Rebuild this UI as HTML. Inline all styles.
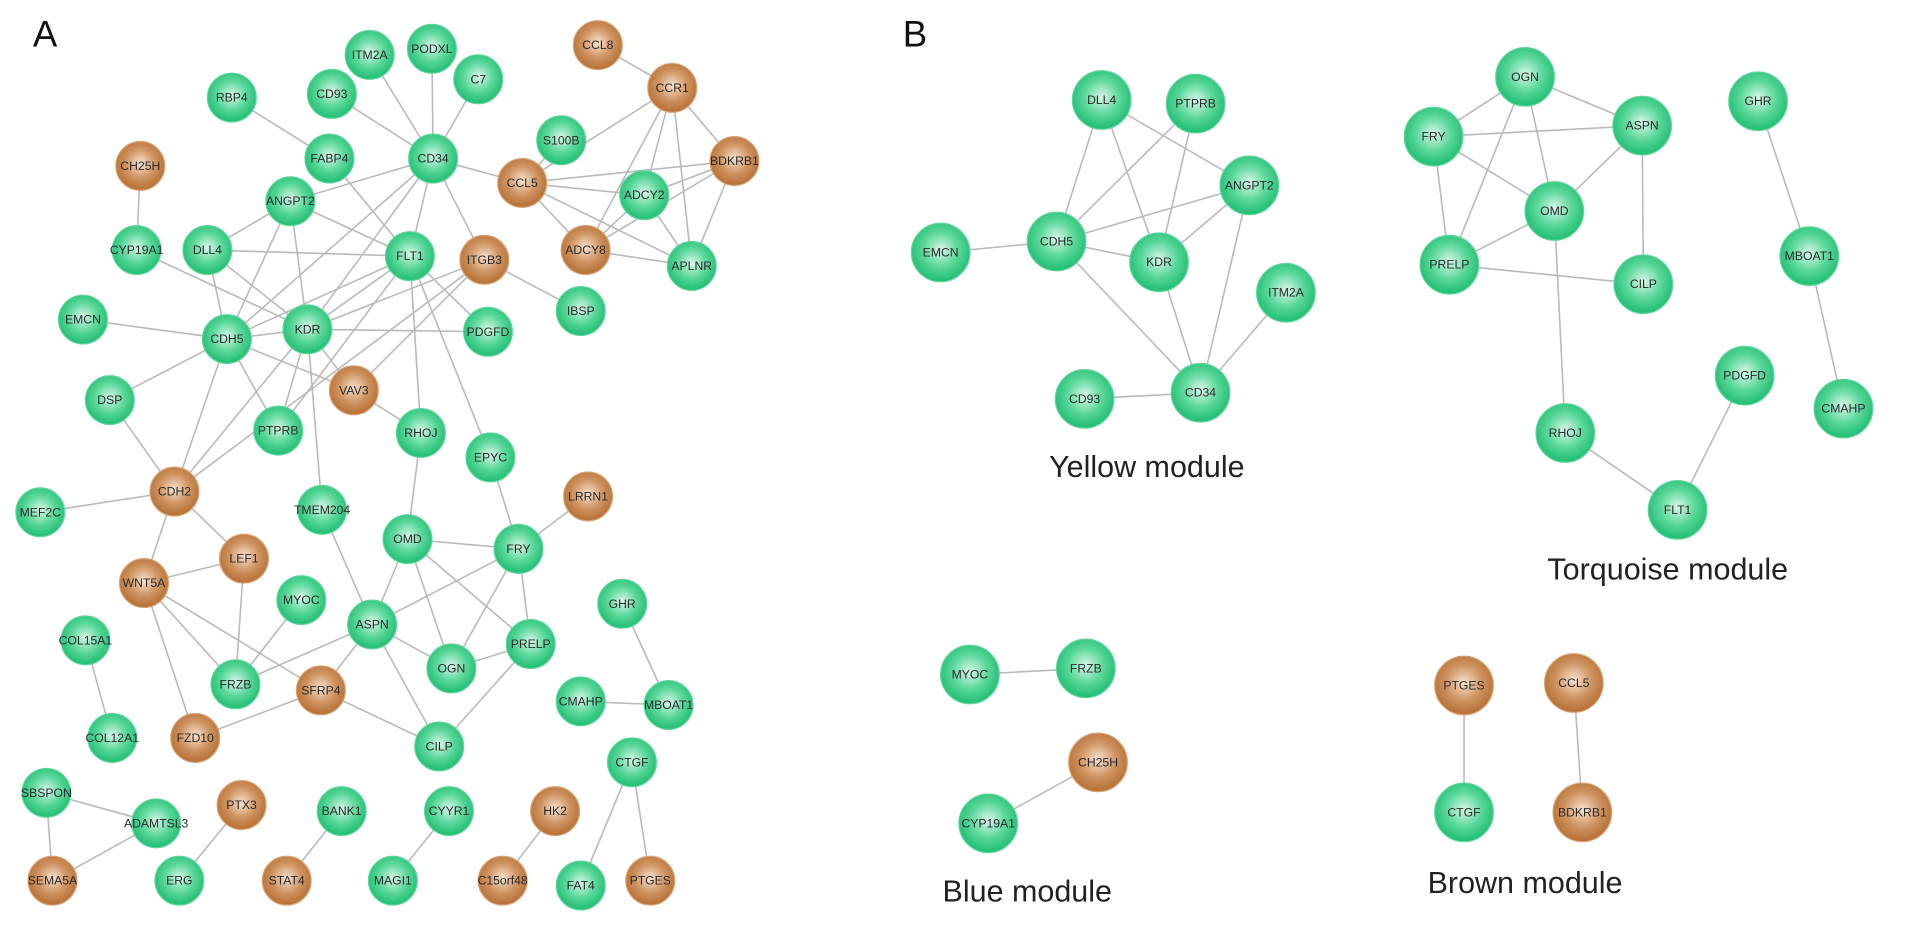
<!DOCTYPE html>
<html><head><meta charset="utf-8"><style>
html,body{margin:0;padding:0;background:#fff;width:1913px;height:927px;overflow:hidden}
svg{display:block}
.e line{stroke:#b9b9b9;stroke-width:1.3}
.g{fill:url(#gg);stroke:#5fd59a;stroke-width:1}
.b{fill:url(#gb);stroke:#d8a070;stroke-width:1}
.t{font-family:"Liberation Sans",sans-serif;font-size:10px;fill:#2a2a2a;text-anchor:middle;dominant-baseline:central}
.m{font-family:"Liberation Sans",sans-serif;font-size:25px;fill:#222;text-anchor:middle}
.L{font-family:"Liberation Sans",sans-serif;font-size:30px;fill:#111}
</style></head><body>
<svg width="1913" height="927" viewBox="0 0 1568 760" preserveAspectRatio="none" xmlns="http://www.w3.org/2000/svg">
<defs>
<radialGradient id="gg" cx="50%" cy="45%" r="55%"><stop offset="0" stop-color="#d8f7e6"/><stop offset="0.55" stop-color="#5ad79a"/><stop offset="1" stop-color="#1fbd73"/></radialGradient>
<radialGradient id="gb" cx="50%" cy="45%" r="55%"><stop offset="0" stop-color="#f6e2cf"/><stop offset="0.55" stop-color="#cf9462"/><stop offset="1" stop-color="#b56f33"/></radialGradient>
</defs>
<text class="L" x="27" y="38">A</text>
<text class="L" x="740" y="38">B</text>
<g class="e">
<line x1="490" y1="37" x2="551" y2="72"/>
<line x1="190" y1="80" x2="270" y2="130"/>
<line x1="272" y1="77" x2="355" y2="130"/><line x1="303" y1="45" x2="355" y2="130"/><line x1="354" y1="40" x2="355" y2="130"/><line x1="392" y1="65" x2="355" y2="130"/>
<line x1="460" y1="115" x2="428" y2="150"/><line x1="115" y1="136" x2="112" y2="205"/>
<line x1="355" y1="130" x2="428" y2="150"/><line x1="355" y1="130" x2="238" y2="165"/><line x1="355" y1="130" x2="336" y2="210"/><line x1="355" y1="130" x2="397" y2="213"/><line x1="355" y1="130" x2="186" y2="278"/><line x1="355" y1="130" x2="252" y2="270"/>
<line x1="270" y1="130" x2="336" y2="210"/>
<line x1="551" y1="72" x2="428" y2="150"/><line x1="551" y1="72" x2="528" y2="160"/><line x1="551" y1="72" x2="480" y2="205"/><line x1="551" y1="72" x2="567" y2="218"/><line x1="551" y1="72" x2="602" y2="132"/>
<line x1="428" y1="150" x2="602" y2="132"/><line x1="428" y1="150" x2="528" y2="160"/><line x1="428" y1="150" x2="480" y2="205"/><line x1="428" y1="150" x2="567" y2="218"/>
<line x1="602" y1="132" x2="528" y2="160"/><line x1="602" y1="132" x2="480" y2="205"/><line x1="602" y1="132" x2="567" y2="218"/>
<line x1="528" y1="160" x2="480" y2="205"/><line x1="528" y1="160" x2="567" y2="218"/><line x1="480" y1="205" x2="567" y2="218"/>
<line x1="238" y1="165" x2="170" y2="205"/><line x1="238" y1="165" x2="336" y2="210"/><line x1="238" y1="165" x2="186" y2="278"/><line x1="238" y1="165" x2="252" y2="270"/>
<line x1="170" y1="205" x2="336" y2="210"/><line x1="170" y1="205" x2="186" y2="278"/><line x1="170" y1="205" x2="252" y2="270"/>
<line x1="112" y1="205" x2="252" y2="270"/>
<line x1="336" y1="210" x2="186" y2="278"/><line x1="336" y1="210" x2="252" y2="270"/><line x1="336" y1="210" x2="400" y2="272"/><line x1="336" y1="210" x2="345" y2="355"/><line x1="336" y1="210" x2="402" y2="375"/><line x1="336" y1="210" x2="228" y2="353"/>
<line x1="397" y1="213" x2="476" y2="255"/><line x1="397" y1="213" x2="252" y2="270"/><line x1="397" y1="213" x2="290" y2="320"/><line x1="397" y1="213" x2="143" y2="403"/>
<line x1="68" y1="262" x2="186" y2="278"/>
<line x1="186" y1="278" x2="252" y2="270"/><line x1="186" y1="278" x2="290" y2="320"/><line x1="186" y1="278" x2="228" y2="353"/><line x1="186" y1="278" x2="90" y2="328"/><line x1="186" y1="278" x2="143" y2="403"/>
<line x1="252" y1="270" x2="400" y2="272"/><line x1="252" y1="270" x2="228" y2="353"/><line x1="252" y1="270" x2="264" y2="418"/><line x1="252" y1="270" x2="290" y2="320"/><line x1="252" y1="270" x2="143" y2="403"/>
<line x1="290" y1="320" x2="345" y2="355"/><line x1="90" y1="328" x2="143" y2="403"/>
<line x1="345" y1="355" x2="334" y2="442"/><line x1="402" y1="375" x2="425" y2="450"/>
<line x1="143" y1="403" x2="33" y2="420"/><line x1="143" y1="403" x2="118" y2="478"/><line x1="143" y1="403" x2="200" y2="458"/>
<line x1="264" y1="418" x2="305" y2="512"/>
<line x1="334" y1="442" x2="425" y2="450"/><line x1="334" y1="442" x2="305" y2="512"/><line x1="334" y1="442" x2="370" y2="548"/><line x1="334" y1="442" x2="435" y2="528"/>
<line x1="425" y1="450" x2="482" y2="407"/><line x1="425" y1="450" x2="305" y2="512"/><line x1="425" y1="450" x2="370" y2="548"/><line x1="425" y1="450" x2="435" y2="528"/>
<line x1="200" y1="458" x2="118" y2="478"/><line x1="200" y1="458" x2="193" y2="561"/>
<line x1="118" y1="478" x2="193" y2="561"/><line x1="118" y1="478" x2="263" y2="566"/><line x1="118" y1="478" x2="160" y2="605"/>
<line x1="247" y1="492" x2="193" y2="561"/>
<line x1="305" y1="512" x2="193" y2="561"/><line x1="305" y1="512" x2="263" y2="566"/><line x1="305" y1="512" x2="370" y2="548"/><line x1="305" y1="512" x2="360" y2="612"/>
<line x1="370" y1="548" x2="435" y2="528"/><line x1="435" y1="528" x2="360" y2="612"/>
<line x1="263" y1="566" x2="160" y2="605"/><line x1="263" y1="566" x2="360" y2="612"/>
<line x1="510" y1="495" x2="548" y2="578"/><line x1="476" y1="575" x2="548" y2="578"/>
<line x1="70" y1="525" x2="92" y2="605"/>
<line x1="518" y1="625" x2="476" y2="726"/><line x1="518" y1="625" x2="533" y2="722"/>
<line x1="38" y1="650" x2="128" y2="675"/><line x1="38" y1="650" x2="43" y2="722"/><line x1="128" y1="675" x2="43" y2="722"/>
<line x1="198" y1="660" x2="147" y2="722"/><line x1="280" y1="665" x2="235" y2="722"/><line x1="368" y1="665" x2="322" y2="722"/><line x1="455" y1="665" x2="412" y2="722"/>
<line x1="903" y1="82" x2="866" y2="198"/><line x1="903" y1="82" x2="950" y2="215"/><line x1="903" y1="82" x2="1024" y2="152"/>
<line x1="980" y1="85" x2="866" y2="198"/><line x1="980" y1="85" x2="950" y2="215"/>
<line x1="1024" y1="152" x2="866" y2="198"/><line x1="1024" y1="152" x2="950" y2="215"/><line x1="1024" y1="152" x2="984" y2="322"/>
<line x1="771" y1="207" x2="866" y2="198"/><line x1="866" y1="198" x2="950" y2="215"/><line x1="866" y1="198" x2="984" y2="322"/>
<line x1="950" y1="215" x2="984" y2="322"/><line x1="1054" y1="240" x2="984" y2="322"/><line x1="889" y1="327" x2="984" y2="322"/>
<line x1="1250" y1="63" x2="1175" y2="112"/><line x1="1250" y1="63" x2="1346" y2="103"/><line x1="1250" y1="63" x2="1274" y2="173"/><line x1="1250" y1="63" x2="1188" y2="217"/>
<line x1="1175" y1="112" x2="1346" y2="103"/><line x1="1175" y1="112" x2="1274" y2="173"/><line x1="1175" y1="112" x2="1188" y2="217"/>
<line x1="1346" y1="103" x2="1274" y2="173"/><line x1="1346" y1="103" x2="1347" y2="233"/>
<line x1="1274" y1="173" x2="1188" y2="217"/><line x1="1188" y1="217" x2="1347" y2="233"/>
<line x1="1274" y1="173" x2="1283" y2="355"/><line x1="1283" y1="355" x2="1375" y2="418"/><line x1="1375" y1="418" x2="1430" y2="308"/>
<line x1="1441" y1="83" x2="1483" y2="210"/><line x1="1483" y1="210" x2="1511" y2="335"/>
<line x1="795" y1="553" x2="890" y2="548"/><line x1="900" y1="625" x2="810" y2="675"/>
<line x1="1200" y1="562" x2="1200" y2="666"/><line x1="1290" y1="560" x2="1297" y2="666"/>
</g>
<g>
<circle class="g" cx="303" cy="45" r="20"/><text class="t" x="303" y="45">ITM2A</text>
<circle class="g" cx="354" cy="40" r="20"/><text class="t" x="354" y="40">PODXL</text>
<circle class="g" cx="392" cy="65" r="20"/><text class="t" x="392" y="65">C7</text>
<circle class="b" cx="490" cy="37" r="20"/><text class="t" x="490" y="37">CCL8</text>
<circle class="b" cx="551" cy="72" r="20"/><text class="t" x="551" y="72">CCR1</text>
<circle class="g" cx="190" cy="80" r="20"/><text class="t" x="190" y="80">RBP4</text>
<circle class="g" cx="272" cy="77" r="20"/><text class="t" x="272" y="77">CD93</text>
<circle class="g" cx="460" cy="115" r="20"/><text class="t" x="460" y="115">S100B</text>
<circle class="b" cx="115" cy="136" r="20"/><text class="t" x="115" y="136">CH25H</text>
<circle class="g" cx="270" cy="130" r="20"/><text class="t" x="270" y="130">FABP4</text>
<circle class="g" cx="355" cy="130" r="20"/><text class="t" x="355" y="130">CD34</text>
<circle class="b" cx="428" cy="150" r="20"/><text class="t" x="428" y="150">CCL5</text>
<circle class="b" cx="602" cy="132" r="20"/><text class="t" x="602" y="132">BDKRB1</text>
<circle class="g" cx="238" cy="165" r="20"/><text class="t" x="238" y="165">ANGPT2</text>
<circle class="g" cx="528" cy="160" r="20"/><text class="t" x="528" y="160">ADCY2</text>
<circle class="g" cx="112" cy="205" r="20"/><text class="t" x="112" y="205">CYP19A1</text>
<circle class="g" cx="170" cy="205" r="20"/><text class="t" x="170" y="205">DLL4</text>
<circle class="g" cx="336" cy="210" r="20"/><text class="t" x="336" y="210">FLT1</text>
<circle class="b" cx="397" cy="213" r="20"/><text class="t" x="397" y="213">ITGB3</text>
<circle class="b" cx="480" cy="205" r="20"/><text class="t" x="480" y="205">ADCY8</text>
<circle class="g" cx="567" cy="218" r="20"/><text class="t" x="567" y="218">APLNR</text>
<circle class="g" cx="68" cy="262" r="20"/><text class="t" x="68" y="262">EMCN</text>
<circle class="g" cx="186" cy="278" r="20"/><text class="t" x="186" y="278">CDH5</text>
<circle class="g" cx="252" cy="270" r="20"/><text class="t" x="252" y="270">KDR</text>
<circle class="g" cx="400" cy="272" r="20"/><text class="t" x="400" y="272">PDGFD</text>
<circle class="g" cx="476" cy="255" r="20"/><text class="t" x="476" y="255">IBSP</text>
<circle class="g" cx="90" cy="328" r="20"/><text class="t" x="90" y="328">DSP</text>
<circle class="b" cx="290" cy="320" r="20"/><text class="t" x="290" y="320">VAV3</text>
<circle class="g" cx="228" cy="353" r="20"/><text class="t" x="228" y="353">PTPRB</text>
<circle class="g" cx="345" cy="355" r="20"/><text class="t" x="345" y="355">RHOJ</text>
<circle class="g" cx="402" cy="375" r="20"/><text class="t" x="402" y="375">EPYC</text>
<circle class="g" cx="33" cy="420" r="20"/><text class="t" x="33" y="420">MEF2C</text>
<circle class="b" cx="143" cy="403" r="20"/><text class="t" x="143" y="403">CDH2</text>
<circle class="g" cx="264" cy="418" r="20"/><text class="t" x="264" y="418">TMEM204</text>
<circle class="g" cx="334" cy="442" r="20"/><text class="t" x="334" y="442">OMD</text>
<circle class="g" cx="425" cy="450" r="20"/><text class="t" x="425" y="450">FRY</text>
<circle class="b" cx="482" cy="407" r="20"/><text class="t" x="482" y="407">LRRN1</text>
<circle class="b" cx="200" cy="458" r="20"/><text class="t" x="200" y="458">LEF1</text>
<circle class="b" cx="118" cy="478" r="20"/><text class="t" x="118" y="478">WNT5A</text>
<circle class="g" cx="247" cy="492" r="20"/><text class="t" x="247" y="492">MYOC</text>
<circle class="g" cx="305" cy="512" r="20"/><text class="t" x="305" y="512">ASPN</text>
<circle class="g" cx="510" cy="495" r="20"/><text class="t" x="510" y="495">GHR</text>
<circle class="g" cx="70" cy="525" r="20"/><text class="t" x="70" y="525">COL15A1</text>
<circle class="g" cx="193" cy="561" r="20"/><text class="t" x="193" y="561">FRZB</text>
<circle class="b" cx="263" cy="566" r="20"/><text class="t" x="263" y="566">SFRP4</text>
<circle class="g" cx="370" cy="548" r="20"/><text class="t" x="370" y="548">OGN</text>
<circle class="g" cx="435" cy="528" r="20"/><text class="t" x="435" y="528">PRELP</text>
<circle class="g" cx="476" cy="575" r="20"/><text class="t" x="476" y="575">CMAHP</text>
<circle class="g" cx="548" cy="578" r="20"/><text class="t" x="548" y="578">MBOAT1</text>
<circle class="g" cx="92" cy="605" r="20"/><text class="t" x="92" y="605">COL12A1</text>
<circle class="b" cx="160" cy="605" r="20"/><text class="t" x="160" y="605">FZD10</text>
<circle class="g" cx="360" cy="612" r="20"/><text class="t" x="360" y="612">CILP</text>
<circle class="g" cx="518" cy="625" r="20"/><text class="t" x="518" y="625">CTGF</text>
<circle class="g" cx="38" cy="650" r="20"/><text class="t" x="38" y="650">SBSPON</text>
<circle class="g" cx="128" cy="675" r="20"/><text class="t" x="128" y="675">ADAMTSL3</text>
<circle class="b" cx="198" cy="660" r="20"/><text class="t" x="198" y="660">PTX3</text>
<circle class="g" cx="280" cy="665" r="20"/><text class="t" x="280" y="665">BANK1</text>
<circle class="g" cx="368" cy="665" r="20"/><text class="t" x="368" y="665">CYYR1</text>
<circle class="b" cx="455" cy="665" r="20"/><text class="t" x="455" y="665">HK2</text>
<circle class="b" cx="43" cy="722" r="20"/><text class="t" x="43" y="722">SEMA5A</text>
<circle class="g" cx="147" cy="722" r="20"/><text class="t" x="147" y="722">ERG</text>
<circle class="b" cx="235" cy="722" r="20"/><text class="t" x="235" y="722">STAT4</text>
<circle class="g" cx="322" cy="722" r="20"/><text class="t" x="322" y="722">MAGI1</text>
<circle class="b" cx="412" cy="722" r="20"/><text class="t" x="412" y="722">C15orf48</text>
<circle class="g" cx="476" cy="726" r="20"/><text class="t" x="476" y="726">FAT4</text>
<circle class="b" cx="533" cy="722" r="20"/><text class="t" x="533" y="722">PTGES</text>
</g>
<g>
<circle class="g" cx="903" cy="82" r="24"/><text class="t" x="903" y="82">DLL4</text>
<circle class="g" cx="980" cy="85" r="24"/><text class="t" x="980" y="85">PTPRB</text>
<circle class="g" cx="1024" cy="152" r="24"/><text class="t" x="1024" y="152">ANGPT2</text>
<circle class="g" cx="771" cy="207" r="24"/><text class="t" x="771" y="207">EMCN</text>
<circle class="g" cx="866" cy="198" r="24"/><text class="t" x="866" y="198">CDH5</text>
<circle class="g" cx="950" cy="215" r="24"/><text class="t" x="950" y="215">KDR</text>
<circle class="g" cx="1054" cy="240" r="24"/><text class="t" x="1054" y="240">ITM2A</text>
<circle class="g" cx="889" cy="327" r="24"/><text class="t" x="889" y="327">CD93</text>
<circle class="g" cx="984" cy="322" r="24"/><text class="t" x="984" y="322">CD34</text>
<circle class="g" cx="1250" cy="63" r="24"/><text class="t" x="1250" y="63">OGN</text>
<circle class="g" cx="1175" cy="112" r="24"/><text class="t" x="1175" y="112">FRY</text>
<circle class="g" cx="1346" cy="103" r="24"/><text class="t" x="1346" y="103">ASPN</text>
<circle class="g" cx="1441" cy="83" r="24"/><text class="t" x="1441" y="83">GHR</text>
<circle class="g" cx="1274" cy="173" r="24"/><text class="t" x="1274" y="173">OMD</text>
<circle class="g" cx="1188" cy="217" r="24"/><text class="t" x="1188" y="217">PRELP</text>
<circle class="g" cx="1347" cy="233" r="24"/><text class="t" x="1347" y="233">CILP</text>
<circle class="g" cx="1483" cy="210" r="24"/><text class="t" x="1483" y="210">MBOAT1</text>
<circle class="g" cx="1430" cy="308" r="24"/><text class="t" x="1430" y="308">PDGFD</text>
<circle class="g" cx="1511" cy="335" r="24"/><text class="t" x="1511" y="335">CMAHP</text>
<circle class="g" cx="1283" cy="355" r="24"/><text class="t" x="1283" y="355">RHOJ</text>
<circle class="g" cx="1375" cy="418" r="24"/><text class="t" x="1375" y="418">FLT1</text>
<circle class="g" cx="795" cy="553" r="24"/><text class="t" x="795" y="553">MYOC</text>
<circle class="g" cx="890" cy="548" r="24"/><text class="t" x="890" y="548">FRZB</text>
<circle class="b" cx="900" cy="625" r="24"/><text class="t" x="900" y="625">CH25H</text>
<circle class="g" cx="810" cy="675" r="24"/><text class="t" x="810" y="675">CYP19A1</text>
<circle class="b" cx="1200" cy="562" r="24"/><text class="t" x="1200" y="562">PTGES</text>
<circle class="b" cx="1290" cy="560" r="24"/><text class="t" x="1290" y="560">CCL5</text>
<circle class="g" cx="1200" cy="666" r="24"/><text class="t" x="1200" y="666">CTGF</text>
<circle class="b" cx="1297" cy="666" r="24"/><text class="t" x="1297" y="666">BDKRB1</text>
</g>
<text class="m" x="940" y="391">Yellow module</text>
<text class="m" x="1367" y="475">Torquoise module</text>
<text class="m" x="842" y="739">Blue module</text>
<text class="m" x="1250" y="732">Brown module</text>
</svg>
</body></html>
